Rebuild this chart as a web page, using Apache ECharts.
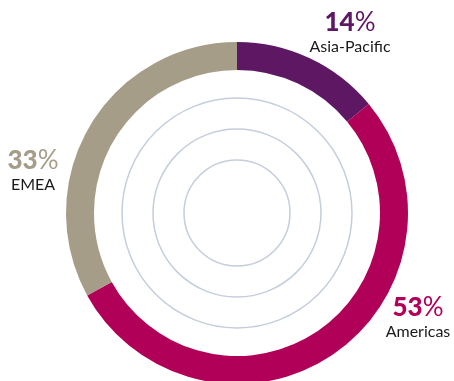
<!DOCTYPE html>
<html>
<head>
<meta charset="utf-8">
<script src="https://cdn.jsdelivr.net/npm/echarts@6/dist/echarts.min.js"></script>
<style>
  html, body { margin: 0; padding: 0; background: #fff; }
  #regionShare { width: 454px; height: 381px; }
</style>
</head>
<body>
<div id="regionShare"></div>
<script>
// share of total by region, clockwise from 12 o'clock
var regions = ['Asia-Pacific', 'Americas', 'EMEA'];
var shares = [14, 53, 33];
var colors = ['#5e1863', '#b10058', '#a59d88'];

// where each label block sits (centre of the block)
var labelPos = [[350, 33], [418, 318], [33, 171]];

var cx = 237, cy = 213;
var rings = [115, 84, 53];

function richFor(color) {
    return {
        num: {
            fontFamily: 'Lato',
            fontWeight: 900,
            fontSize: 26,
            lineHeight: 27,
            color: color,
            align: 'center'
        },
        pct: {
            fontFamily: 'Lato',
            fontWeight: 'normal',
            fontSize: 26,
            lineHeight: 27,
            color: color,
            align: 'center'
        },
        name: {
            fontFamily: 'Lato',
            fontSize: 16,
            lineHeight: 20,
            color: '#1a1a1a',
            align: 'center'
        }
    };
}

var chart = echarts.init(document.getElementById('regionShare'));

var option = {
    backgroundColor: '#fff',
    animation: false,
    graphic: rings.map(function (r) {
        return {
            type: 'circle',
            shape: { cx: cx, cy: cy, r: r },
            style: { fill: 'none', stroke: '#c4cedc', lineWidth: 1.5 },
            z: 1
        };
    }),
    series: [
        {
            type: 'pie',
            center: [cx, cy],
            radius: [143, 171],
            startAngle: 90,
            clockwise: true,
            silent: true,
            data: regions.map(function (name, i) {
                return {
                    name: name,
                    value: shares[i],
                    itemStyle: { color: colors[i] },
                    label: { rich: richFor(colors[i]) }
                };
            }),
            label: {
                show: true,
                position: 'outside',
                alignTo: 'none',
                edgeDistance: 0,
                bleedMargin: 0,
                overflow: 'none',
                align: 'center',
                formatter: '{num|{c}}{pct|%}\n{name|{b}}'
            },
            labelLine: { show: false },
            labelLayout: function (params) {
                var p = labelPos[params.dataIndex];
                return {
                    x: p[0],
                    y: p[1],
                    width: 120,
                    align: 'center',
                    verticalAlign: 'middle'
                };
            },
            z: 2
        }
    ]
};

chart.setOption(option);
</script>
</body>
</html>
